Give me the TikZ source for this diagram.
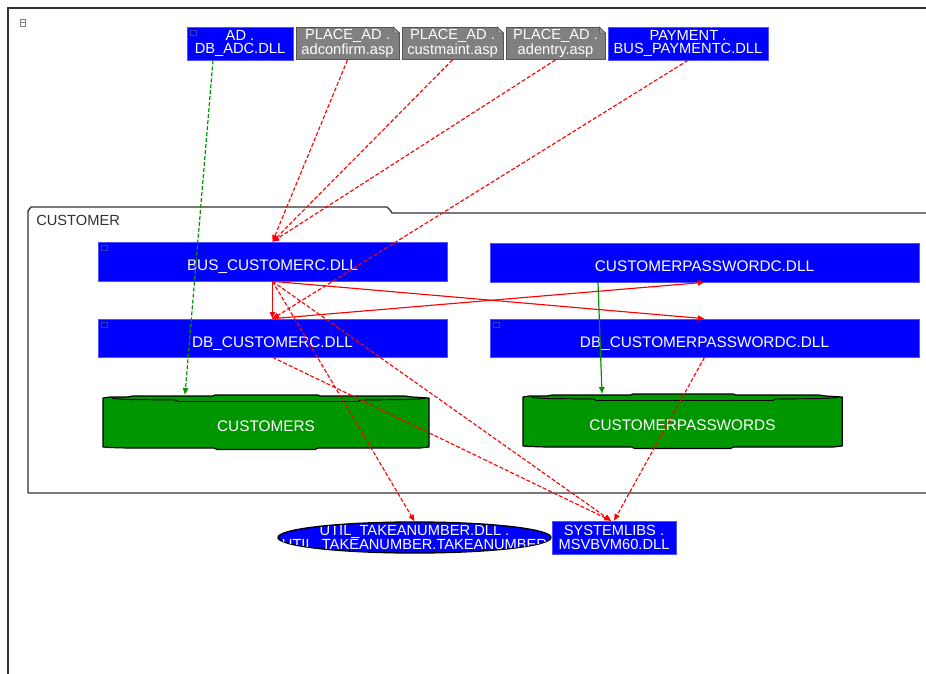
\documentclass[tikz,border=0pt]{standalone}
\usepackage{fontspec}
\setmainfont{Liberation Sans}
\usetikzlibrary{shapes.geometric,arrows.meta,calc}

\definecolor{modblue}{RGB}{0,0,255}
\definecolor{modedge}{RGB}{80,80,255}
\definecolor{iconcol}{RGB}{60,60,170}
\definecolor{notegray}{RGB}{128,128,128}
\definecolor{noteedge}{RGB}{85,85,85}
\definecolor{dbgreen}{RGB}{0,150,0}
\definecolor{depred}{RGB}{255,0,0}
\definecolor{framegray}{RGB}{50,50,50}

\tikzset{
  % database tank: stepped green slab, origin at its top-left corner (px units)
  tank/.pic={
    \filldraw[fill=dbgreen, draw=black, line width=0.9pt, line join=round]
      (0,3) -- (7,2) -- (24,2) -- (30,1) -- (110,1) -- (112,0) -- (215,0) -- (217,1)
      -- (302,1) -- (309,2) -- (326,3) -- (326,52) -- (317,53) -- (215,53) -- (212,54.5)
      -- (114,54.5) -- (111,53) -- (24,53) -- (7,52.5) -- (0,52) -- cycle;
    \draw[black, line width=0.7pt]
      (9,3.5) -- (24,4.5) -- (72,5) -- (75,6.5) -- (255,6.5) -- (258,5) -- (307,4.5) -- (322,3.5);
  }
}

\begin{document}
\begin{tikzpicture}[x=0.75pt,y=-0.75pt,
  sz/.style 2 args={minimum width=#1*0.75pt, minimum height=#2*0.75pt},
  lbl/.style={font=\fontsize{11}{10}\selectfont, text=white, align=center},
  lowtext/.style={font=\fontsize{11.5}{10}\selectfont, text height=14pt, text depth=0pt},
  module/.style={lbl, rectangle, fill=modblue, draw=modedge, line width=0.5pt, inner sep=0pt},
  notebox/.style={lbl, rectangle, fill=notegray, draw=noteedge, line width=0.6pt, inner sep=0pt},
  tanklabel/.style={lbl, lowtext, rectangle, inner sep=0pt},
  tip/.style={-{Triangle[length=5pt,width=4pt]}},
  dep/.style={depred, line width=0.85pt, dash pattern=on 3pt off 1.5pt, tip},
  depsolid/.style={depred, line width=0.85pt, tip},
  uses/.style={dbgreen, line width=0.9pt, tip},
  usesdashed/.style={uses, dash pattern=on 3pt off 1.5pt},
]
\useasboundingbox (0,0) rectangle (926,674);
\fill[white] (0,0) rectangle (926,674);

% sheet frame and its corner marker
\draw[framegray, line width=1.2pt] (8,674) -- (8,8) -- (926,8);
\draw[gray, line width=0.4pt] (20,19) rectangle (25,26);
\draw[gray, line width=0.4pt] (20,22.5) -- (25,22.5);

% CUSTOMER package
\draw[framegray, line width=1pt, line join=round]
  (926,493) -- (28,493) -- (28,211) -- (31,207) -- (387,207) -- (390,210) -- (392,213) -- (926,213);
\node[anchor=base west, font=\fontsize{11}{13}\selectfont, text=framegray, inner sep=0pt]
  (pkglabel) at (36,225.5) {CUSTOMER};

% top row
\node[module, sz={106}{33}] (ad)  at (240,43.5)   {AD .\\DB\_ADC.DLL};
\node[notebox, sz={103}{32}] (pac) at (347.5,43.5) {PLACE\_AD .\\adconfirm.asp};
\node[notebox, sz={101}{32}] (pcm) at (452.5,43.5) {PLACE\_AD .\\custmaint.asp};
\node[notebox, sz={99}{32}]  (pae) at (555.5,43.5) {PLACE\_AD .\\adentry.asp};
\node[module, sz={160}{33}] (pay) at (688,43.5)   {PAYMENT .\\BUS\_PAYMENTC.DLL};

% folded corners of the page nodes
\foreach \n in {pac,pcm,pae}{
  \fill[white] ($(\n.north east)+(-6,0)$) -- ($(\n.north east)+(1,0)$) -- ($(\n.north east)+(1,6)$) -- cycle;
  \filldraw[fill=noteedge!60, draw=noteedge, line width=0.5pt]
    ($(\n.north east)+(-6,0)$) -- ($(\n.north east)+(0,6)$) -- ($(\n.north east)+(-6,6)$) -- cycle;
}

% package contents
\node[module, lowtext, sz={349}{39}] (bus)   at (272.5,261.5) {BUS\_CUSTOMERC.DLL};
\node[module, lowtext, sz={349}{38}] (db)    at (272.5,338)   {DB\_CUSTOMERC.DLL};
\node[module, lowtext, sz={429}{39}] (cpw)   at (704.5,262.5) {CUSTOMERPASSWORDC.DLL};
\node[module, lowtext, sz={429}{38}] (dbcpw) at (704.5,338)   {DB\_CUSTOMERPASSWORDC.DLL};

% small type markers in module corners
\foreach \n in {ad,bus,db,dbcpw}
  \draw[iconcol, line width=0.4pt] ($(\n.north west)+(4,4)$) rectangle ++(6,5);

% database tanks
\pic at (103,395) {tank};
\pic[xscale=0.979] at (523,394) {tank};
\node[tanklabel, sz={326}{54}] (custs) at (266,422)   {CUSTOMERS};
\node[tanklabel, sz={319}{55}] (cpws)  at (682.5,421.5) {CUSTOMERPASSWORDS};

% outside the package
\node[ellipse, fill=modblue, draw=black, line width=1pt, sz={273}{31}, inner sep=0pt]
  (util) at (414.5,537.5) {};
\begin{scope}
  \clip (util.center) ellipse [x radius=101.5pt, y radius=11pt];
  \node[lbl, inner sep=0pt] (utiltext) at ($(util.center)+(0,1.5)$)
    {UTIL\_TAKEANUMBER.DLL .\\UTIL\_TAKEANUMBER.TAKEANUMBER};
\end{scope}
\node[module, sz={124}{33}] (sys) at (614,537.5) {SYSTEMLIBS .\\MSVBVM60.DLL};

% data access
\draw[usesdashed] ($(ad.south)+(-27,0)$) -- ($(custs.north)+(-81,0)$);
\draw[uses] ($(cpw.south)+(-106.5,0)$) -- ($(cpws.north)+(-80.5,0)$);

% calls from the top row
\draw[dep] (pac.south) -- (bus.north);
\draw[dep] (pcm.south) -- (bus.north);
\draw[dep] (pae.south) -- (bus.north);
\draw[dep] (pay.south) -- (db.north);

% calls inside the package
\draw[depsolid] (bus.south) -- (db.north);
\draw[depsolid] (bus.south) -- (dbcpw.north);
\draw[depsolid] (db.north) -- (cpw.south);

% calls to shared libraries
\draw[dep] (bus.south) -- (util.north);
\draw[dep] (bus.south) -- ($(sys.north)+(-3,0)$);
\draw[dep] (db.south) -- ($(sys.north)+(-3,0)$);
\draw[dep] (dbcpw.south) -- (sys.north);
\end{tikzpicture}
\end{document}
